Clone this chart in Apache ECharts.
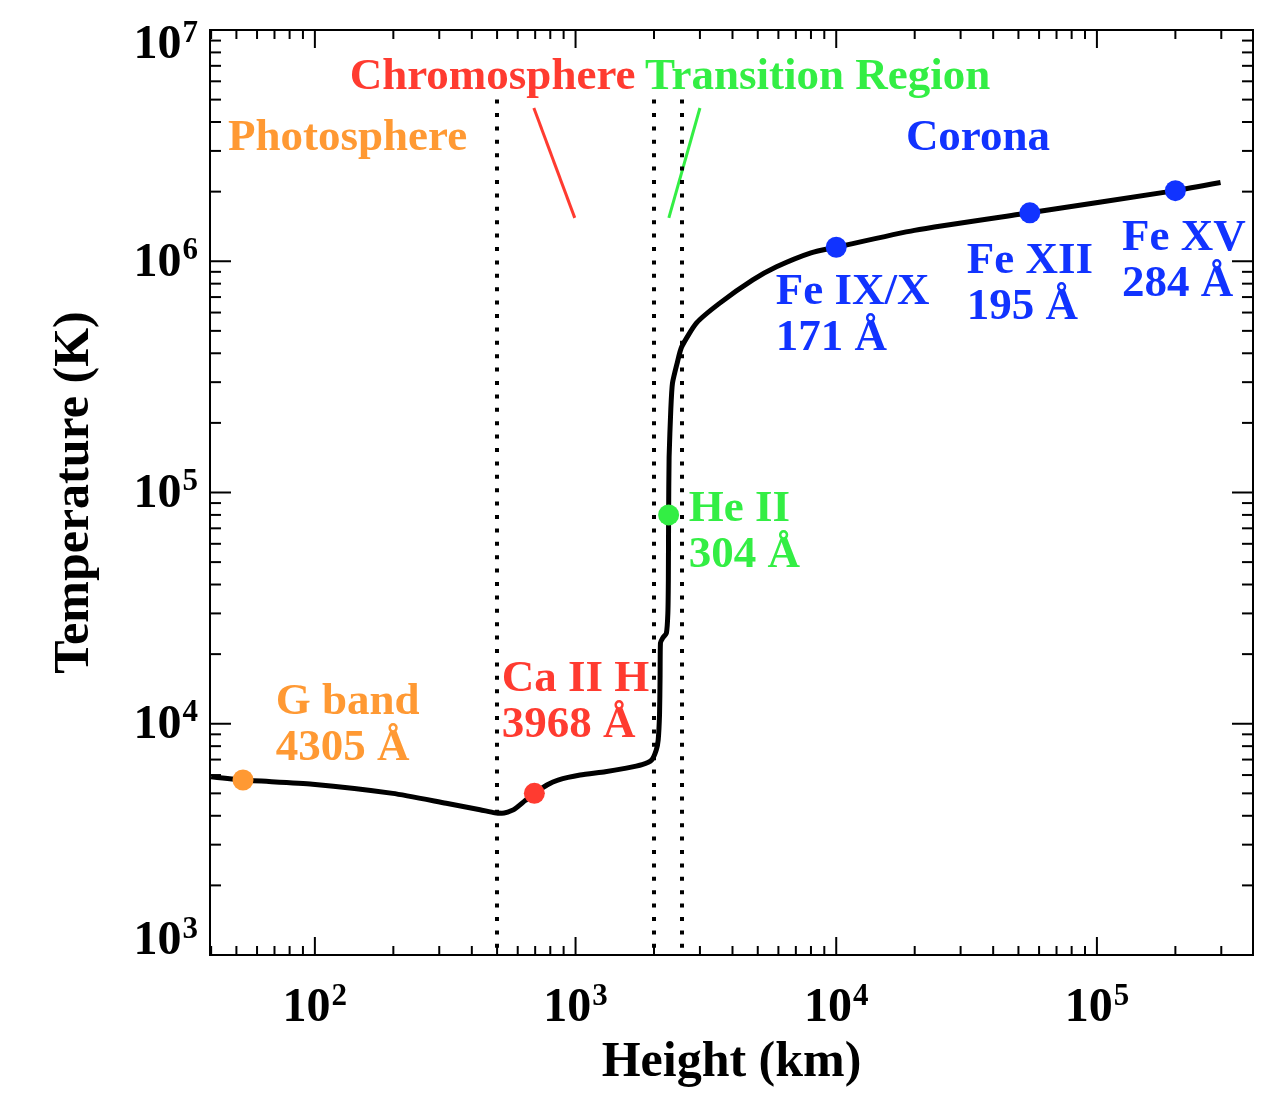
<!DOCTYPE html>
<html>
<head>
<meta charset="utf-8">
<script src="https://cdn.jsdelivr.net/npm/echarts@6/dist/echarts.min.js"></script>
<style>
  html, body { margin: 0; padding: 0; background: #fff; }
  #chart { width: 1276px; height: 1098px; }
</style>
</head>
<body>
<div id="chart"></div>
<script>
// temperature profile of the solar atmosphere, [height km, temperature K]
var profile = [
  [40, 5900], [53, 5710], [98, 5480], [199, 5000], [319, 4530], [430, 4250],
  [490, 4120], [522, 4100], [577, 4240], [640, 4650], [695, 5000], [780, 5450],
  [856, 5710], [1041, 6000], [1300, 6200], [1546, 6410], [1800, 6650],
  [1959, 6970], [2040, 7700], [2075, 8510], [2100, 11000], [2110, 16000],
  [2117, 22350], [2160, 23500], [2230, 24600], [2260, 30000], [2270, 41900],
  [2275, 80000], [2285, 142000], [2320, 230000], [2354, 297000],
  [2454, 363000], [2553, 426000], [2912, 541000], [3575, 659000],
  [4786, 830000], [5900, 946000], [8000, 1087000], [10000, 1150000],
  [19950, 1360000], [55300, 1620000], [200000, 2020000], [298000, 2190000]
];

// observed lines: position on the curve, label, colour
var lineNames = ['G band\n4305 Å', 'Ca II H\n3968 Å', 'He II\n304 Å',
                 'Fe IX/X\n171 Å', 'Fe XII\n195 Å', 'Fe XV\n284 Å'];
var linePoints = [[53, 5710], [695, 5000], [2275, 80000],
                  [10000, 1150000], [55300, 1620000], [200000, 2020000]];
var lineLabelAt = [[70.8, 9880], [521, 12400], [2720, 67500],
                   [5860, 586000], [31700, 798000], [124800, 1000000]];
var lineColors = ['#ff9933', '#ff3b30', '#33ee44', '#1133ff', '#1133ff', '#1133ff'];

// region names
var regionNames = ['Photosphere', 'Chromosphere', 'Transition Region', 'Corona'];
var regionAt = [[46.4, 3410000], [136, 6260000], [1845, 6260000], [18500, 3410000]];
var regionColors = ['#ff9933', '#ff3b30', '#33ee44', '#1133ff'];

// region boundaries (km) and pointer strokes
var boundaries = [500, 2000, 2550];
var boundaryTop = 5000000;
var chromoPointer = [[692, 4600000], [993, 1540000]];
var trPointer = [[3000, 4600000], [2280, 1540000]];

// axes
var xMin = 39.6, xMax = 397000;
var yMin = 1000, yMax = 10000000;
var decades = [10, 100, 1000, 10000, 100000, 1000000, 10000000];
var minorSteps = [2, 3, 4, 5, 6, 7, 8, 9];

var FONT = 'Liberation Serif';

function tickList(lo, hi) {
  var out = [];
  decades.forEach(function (d) {
    if (d >= lo * 0.999 && d <= hi * 1.001) out.push([d, 1]);
    minorSteps.forEach(function (m) {
      var v = d * m;
      if (v >= lo && v <= hi) out.push([v, 0]);
    });
  });
  return out;
}
var xTicks = tickList(xMin, xMax).map(function (t) { return [t[0], yMin, t[1]]; });
var yTicks = tickList(yMin, yMax).map(function (t) { return [xMin, t[0], t[1]]; });
// the labels at both ends of the y axis sit a little inside the frame
var yEndLabels = [[xMin, yMax, 14], [xMin, yMin, -15]];

function powText(v) {
  return '{b|10}{s|' + Math.round(Math.log10(v)) + '}';
}
function isDecade(v) {
  var e = Math.log10(v);
  return Math.abs(e - Math.round(e)) < 1e-6;
}
var labelRich = {
  b: { fontFamily: FONT, fontWeight: 'bold', fontSize: 48, color: '#000', lineHeight: 52, verticalAlign: 'bottom' },
  s: { fontFamily: FONT, fontWeight: 'bold', fontSize: 31, color: '#000', lineHeight: 52, verticalAlign: 'top', padding: [0, 0, 0, 1] }
};

var chart = echarts.init(document.getElementById('chart'));

function renderTicks(isX) {
  return function (params, api) {
    var cs = params.coordSys;
    var major = api.value(2) === 1;
    var st = { stroke: '#000', lineWidth: 2 };
    if (isX) {
      var px = api.coord([api.value(0), yMin])[0];
      var len = major ? 18 : 9;
      return { type: 'group', children: [
        { type: 'line', shape: { x1: px, y1: cs.y + cs.height, x2: px, y2: cs.y + cs.height - len }, style: st },
        { type: 'line', shape: { x1: px, y1: cs.y, x2: px, y2: cs.y + len }, style: st }
      ]};
    }
    var py = api.coord([xMin, api.value(1)])[1];
    var ylen = major ? 21 : 11;
    return { type: 'group', children: [
      { type: 'line', shape: { x1: cs.x, y1: py, x2: cs.x + ylen, y2: py }, style: st },
      { type: 'line', shape: { x1: cs.x + cs.width, y1: py, x2: cs.x + cs.width - ylen, y2: py }, style: st }
    ]};
  };
}

function renderText(names, colors) {
  return function (params, api) {
    var p = api.coord([api.value(0), api.value(1)]);
    var i = params.dataIndex;
    return {
      type: 'text', x: p[0], y: p[1],
      style: {
        text: names[i], fill: colors[i],
        fontFamily: FONT, fontWeight: 'bold', fontSize: 45, lineHeight: 46,
        align: 'left', verticalAlign: 'middle'
      }
    };
  };
}

function renderEndLabel(params, api) {
  var v = api.value(1);
  var p = api.coord([api.value(0), v]);
  return {
    type: 'text', x: p[0] - 12, y: p[1] + api.value(2),
    style: { text: powText(v), rich: labelRich, align: 'right', verticalAlign: 'middle' }
  };
}

var option = {
  animation: false,
  backgroundColor: '#fff',
  grid: { left: 210, right: 23, top: 30, bottom: 143, show: true, borderColor: '#000', borderWidth: 2, backgroundColor: 'transparent' },
  xAxis: {
    type: 'log', logBase: 10, min: xMin, max: xMax,
    name: 'Height (km)', nameLocation: 'middle', nameGap: 78,
    nameTextStyle: { fontFamily: FONT, fontWeight: 'bold', fontSize: 50, color: '#000' },
    axisLine: { show: false }, axisTick: { show: false }, splitLine: { show: false },
    axisLabel: {
      margin: 26, rich: labelRich, hideOverlap: false,
      formatter: function (v) { return isDecade(v) ? powText(v) : ''; }
    }
  },
  yAxis: {
    type: 'log', logBase: 10, min: yMin, max: yMax,
    name: 'Temperature (K)', nameLocation: 'middle', nameGap: 110,
    nameTextStyle: { fontFamily: FONT, fontWeight: 'bold', fontSize: 50, color: '#000' },
    axisLine: { show: false }, axisTick: { show: false }, splitLine: { show: false },
    axisLabel: {
      margin: 12, rich: labelRich, hideOverlap: false,
      formatter: function (v) {
        if (!isDecade(v) || v <= yMin * 1.001 || v >= yMax * 0.999) return '';
        return powText(v);
      }
    }
  },
  series: [
    {
      type: 'custom', name: 'xticks', data: xTicks, renderItem: renderTicks(true),
      encode: { x: 0, y: 1 }, silent: true, z: 5
    },
    {
      type: 'custom', name: 'yticks', data: yTicks, renderItem: renderTicks(false),
      encode: { x: 0, y: 1 }, silent: true, z: 5
    },
    {
      type: 'custom', name: 'yEndLabels', data: yEndLabels, renderItem: renderEndLabel,
      encode: { x: 0, y: 1 }, silent: true, clip: false, z: 5
    },
    {
      type: 'line', name: 'profile', data: profile, showSymbol: false, smooth: 0.2,
      lineStyle: { color: '#000', width: 5 }, z: 3,
      markLine: {
        silent: true, symbol: 'none', label: { show: false },
        lineStyle: { color: '#000', width: 4, type: [4, 9.4] },
        data: boundaries.map(function (b) { return [{ coord: [b, boundaryTop] }, { coord: [b, yMin] }]; })
      }
    },
    {
      type: 'line', name: 'chromoPointer', data: chromoPointer, showSymbol: false,
      lineStyle: { color: regionColors[1], width: 3 }, z: 4
    },
    {
      type: 'line', name: 'trPointer', data: trPointer, showSymbol: false,
      lineStyle: { color: regionColors[2], width: 3 }, z: 4
    },
    {
      type: 'scatter', name: 'lines', symbolSize: 21, z: 6,
      data: linePoints.map(function (p, i) { return { value: p, itemStyle: { color: lineColors[i], opacity: 1 } }; })
    },
    {
      type: 'custom', name: 'lineLabels', data: lineLabelAt, renderItem: renderText(lineNames, lineColors),
      encode: { x: 0, y: 1 }, silent: true, z: 7
    },
    {
      type: 'custom', name: 'regionLabels', data: regionAt, renderItem: renderText(regionNames, regionColors),
      encode: { x: 0, y: 1 }, silent: true, z: 7
    }
  ]
};

chart.setOption(option);
</script>
</body>
</html>
